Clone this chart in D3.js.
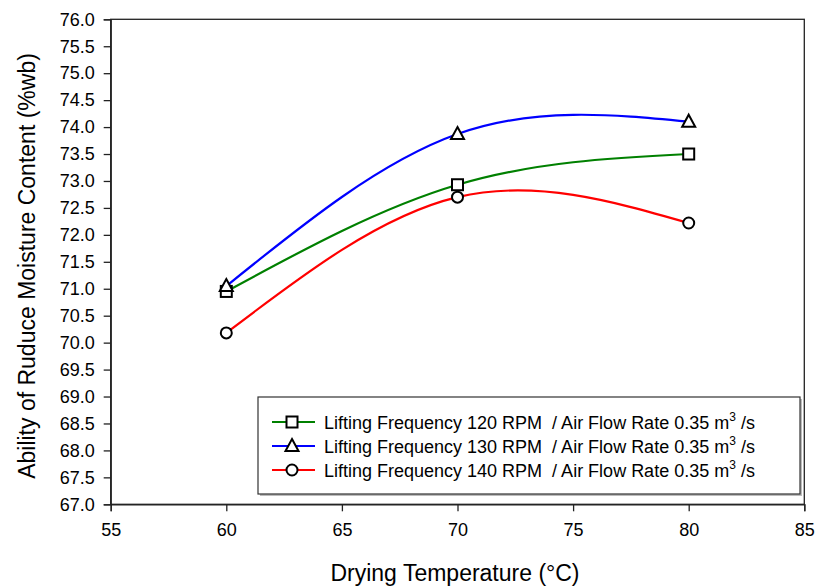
<!DOCTYPE html>
<html><head><meta charset="utf-8">
<script src="https://cdn.jsdelivr.net/npm/d3@7"></script>
<style>body{margin:0;background:#fff}svg{display:block}text{font-family:"Liberation Sans",Arial,sans-serif;fill:#000;white-space:pre}</style>
</head><body>
<svg id="c" width="818" height="588"></svg>
<script>
const temps = [60, 70, 80];
const rpm120 = [70.95, 72.93, 73.50];
const rpm130 = [71.05, 73.87, 74.10];
const rpm140 = [70.18, 72.70, 72.22];
const seriesNames = ["Lifting Frequency 120 RPM  / Air Flow Rate 0.35 m", "Lifting Frequency 130 RPM  / Air Flow Rate 0.35 m", "Lifting Frequency 140 RPM  / Air Flow Rate 0.35 m"];
const xTicks = [55, 60, 65, 70, 75, 80, 85];
const yTicks = d3.range(67, 76.001, 0.5);

const svg = d3.select("#c");
const L = 110.7, R = 804.3, T = 19.3, B = 504.3;
const x = d3.scaleLinear().domain([55, 85]).range([L, R]);
const y = d3.scaleLinear().domain([67, 76]).range([B, T]);

svg.append("rect").attr("x", L).attr("y", T).attr("width", R - L).attr("height", B - T)
  .attr("fill", "none").attr("stroke", "#222").attr("stroke-width", 1.3);

const xa = svg.append("g").attr("transform", `translate(0,${B})`)
  .call(d3.axisBottom(x).tickValues(xTicks).tickSize(7).tickPadding(12).tickFormat(d3.format("d")));
const ya = svg.append("g").attr("transform", `translate(${L},0)`)
  .call(d3.axisLeft(y).tickValues(yTicks).tickSize(7).tickPadding(9).tickFormat(d3.format(".1f")));
[xa, ya].forEach(a => {
  a.select(".domain").attr("stroke", "#222").attr("stroke-width", 1.3);
  a.selectAll(".tick line").attr("stroke", "#222").attr("stroke-width", 1.3);
  a.selectAll(".tick text").style("font-size", "18px").attr("fill", "#000");
});

svg.append("text").attr("x", 455).attr("y", 581).attr("text-anchor", "middle")
  .style("font-size", "23px").text("Drying Temperature (°C)");
svg.append("text").attr("transform", `translate(35,266) rotate(-90)`).attr("text-anchor", "middle")
  .style("font-size", "23px").text("Ability of Ruduce Moisture Content (%wb)");

const series = [
  {vals: rpm120, color: "#008000", sym: "square"},
  {vals: rpm130, color: "#0000ff", sym: "triangle"},
  {vals: rpm140, color: "#ff0000", sym: "circle"}
];
const line = d3.line().x(d => x(d[0])).y(d => y(d[1])).curve(d3.curveNatural);

function marker(g, sym, cx, cy) {
  if (sym === "square") {
    g.append("rect").attr("x", cx - 5.5).attr("y", cy - 5.5).attr("width", 11).attr("height", 11)
      .attr("fill", "#fff").attr("stroke", "#000").attr("stroke-width", 2);
  } else if (sym === "triangle") {
    g.append("path").attr("d", `M${cx},${cy - 7}L${cx + 6.5},${cy + 5}L${cx - 6.5},${cy + 5}Z`)
      .attr("fill", "#fff").attr("stroke", "#000").attr("stroke-width", 2);
  } else {
    g.append("circle").attr("cx", cx).attr("cy", cy).attr("r", 5.5)
      .attr("fill", "#fff").attr("stroke", "#000").attr("stroke-width", 2);
  }
}

series.forEach(s => {
  const pts = temps.map((t, i) => [t, s.vals[i]]);
  svg.append("path").attr("d", line(pts)).attr("fill", "none").attr("stroke", s.color).attr("stroke-width", 2.2);
});
series.forEach(s => {
  const g = svg.append("g");
  temps.forEach((t, i) => marker(g, s.sym, x(t), y(s.vals[i])));
});

const lg = svg.append("g");
lg.append("rect").attr("x", 260).attr("y", 399).attr("width", 542).attr("height", 97).attr("fill", "#bbb");
lg.append("rect").attr("x", 258).attr("y", 397).attr("width", 542).attr("height", 97)
  .attr("fill", "#fff").attr("stroke", "#333").attr("stroke-width", 1.2);
const rowsY = [422, 446, 470];
series.forEach((s, i) => {
  const yy = rowsY[i];
  lg.append("line").attr("x1", 272).attr("x2", 315).attr("y1", yy).attr("y2", yy)
    .attr("stroke", s.color).attr("stroke-width", 2.2);
  marker(lg, s.sym, 292, yy);
  const tx = lg.append("text").attr("x", 324).attr("y", yy + 6.5).style("font-size", "18px");
  tx.append("tspan").text(seriesNames[i]);
  tx.append("tspan").attr("dy", -8).style("font-size", "12px").text("3");
  tx.append("tspan").attr("dy", 8).text(" /s");
});
</script>
</body></html>
